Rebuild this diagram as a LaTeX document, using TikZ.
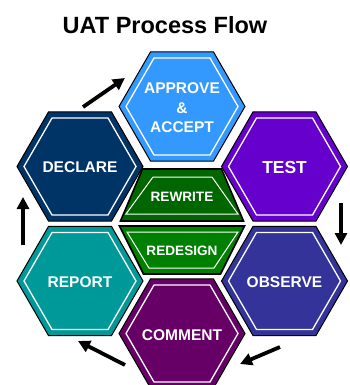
\documentclass[tikz,border=0pt]{standalone}
\usepackage{fontspec}
\setmainfont{Liberation Sans}
\usetikzlibrary{shapes.geometric,arrows.meta}
\definecolor{approvec}{HTML}{3399FF}
\definecolor{declarec}{HTML}{003366}
\definecolor{testc}{HTML}{6600CC}
\definecolor{reportc}{HTML}{009999}
\definecolor{observec}{HTML}{333399}
\definecolor{commentc}{HTML}{660066}
\definecolor{rewritec}{HTML}{006600}
\definecolor{redesignc}{HTML}{008000}
\begin{document}
\begin{tikzpicture}[x=1pt,y=-1pt,
  hexouter/.style={regular polygon, regular polygon sides=6, minimum size=126pt,
    inner sep=0pt, draw=black, line width=1pt},
  hexinner/.style={regular polygon, regular polygon sides=6, minimum size=112pt,
    inner sep=0pt, draw=white, line width=1.3pt},
  label/.style={text=white, font=\bfseries\fontsize{15.5}{19.5}\selectfont, align=center, inner sep=0pt},
  trapouter/.style={draw=black, line width=1.6pt},
  trapinner/.style={draw=white, line width=1pt},
  traplabel/.style={text=white, font=\bfseries\fontsize{13.6}{16}\selectfont, inner sep=0pt},
  flow/.style={line width=3.8pt, -{Triangle[length=12pt,width=12pt]}},
  title/.style={font=\bfseries\fontsize{23.5}{27}\selectfont, inner sep=0pt}]
\useasboundingbox (0,0) rectangle (350,385);

% title
\node[title] (title) at (165,25) {UAT Process Flow};

% outer ring of hexagons
\node[hexouter, fill=approvec] (approve) at (182,106.5) {};
\node[hexinner] (approve-in) at (approve) {};
\node[label] (approve-t) at (182,108) {APPROVE\\\&\\ACCEPT};

\node[hexouter, fill=declarec] (declare) at (80,166.5) {};
\node[hexinner] (declare-in) at (declare) {};
\node[label] (declare-t) at (80,167.5) {DECLARE};

\node[hexouter, fill=testc] (test) at (284.5,166.5) {};
\node[hexinner] (test-in) at (test) {};
\node[label, font=\bfseries\fontsize{17.4}{20}\selectfont] (test-t) at (284.5,167.8) {TEST};

\node[hexouter, fill=reportc] (report) at (80,281) {};
\node[hexinner] (report-in) at (report) {};
\node[label] (report-t) at (80,281.7) {REPORT};

\node[hexouter, fill=observec] (observe) at (284.5,281) {};
\node[hexinner] (observe-in) at (observe) {};
\node[label] (observe-t) at (284.5,281.7) {OBSERVE};

\node[hexouter, fill=commentc] (comment) at (182,333.5) {};
\node[hexinner] (comment-in) at (comment) {};
\node[label] (comment-t) at (182,335.5) {COMMENT};

% split centre hexagon
\draw[trapouter, fill=rewritec] (142.5,169) -- (221.5,169) -- (243.5,221) -- (120.5,221) -- cycle;
\draw[trapinner] (153,177) -- (212,177) -- (238,214) -- (126,214) -- cycle;
\node[traplabel] (rewrite) at (182,196.7) {REWRITE};

\draw[trapouter, fill=redesignc] (119.5,226) -- (244.5,226) -- (220.5,274) -- (143.5,274) -- cycle;
\draw[trapinner] (127,232) -- (238,232) -- (214,268) -- (149,268) -- cycle;
\node[traplabel] (redesign) at (182,251) {REDESIGN};

% cycle arrows
\coordinate (a1s) at (83,107);  \coordinate (a1e) at (125,78);
\coordinate (a2s) at (341,203); \coordinate (a2e) at (341,245);
\coordinate (a3s) at (280,347); \coordinate (a3e) at (240,364);
\coordinate (a4s) at (125,365); \coordinate (a4e) at (78,341);
\coordinate (a5s) at (23,245);  \coordinate (a5e) at (23,197);
\draw[flow] (a1s) -- (a1e);
\draw[flow] (a2s) -- (a2e);
\draw[flow] (a3s) -- (a3e);
\draw[flow] (a4s) -- (a4e);
\draw[flow] (a5s) -- (a5e);
\end{tikzpicture}
\end{document}
